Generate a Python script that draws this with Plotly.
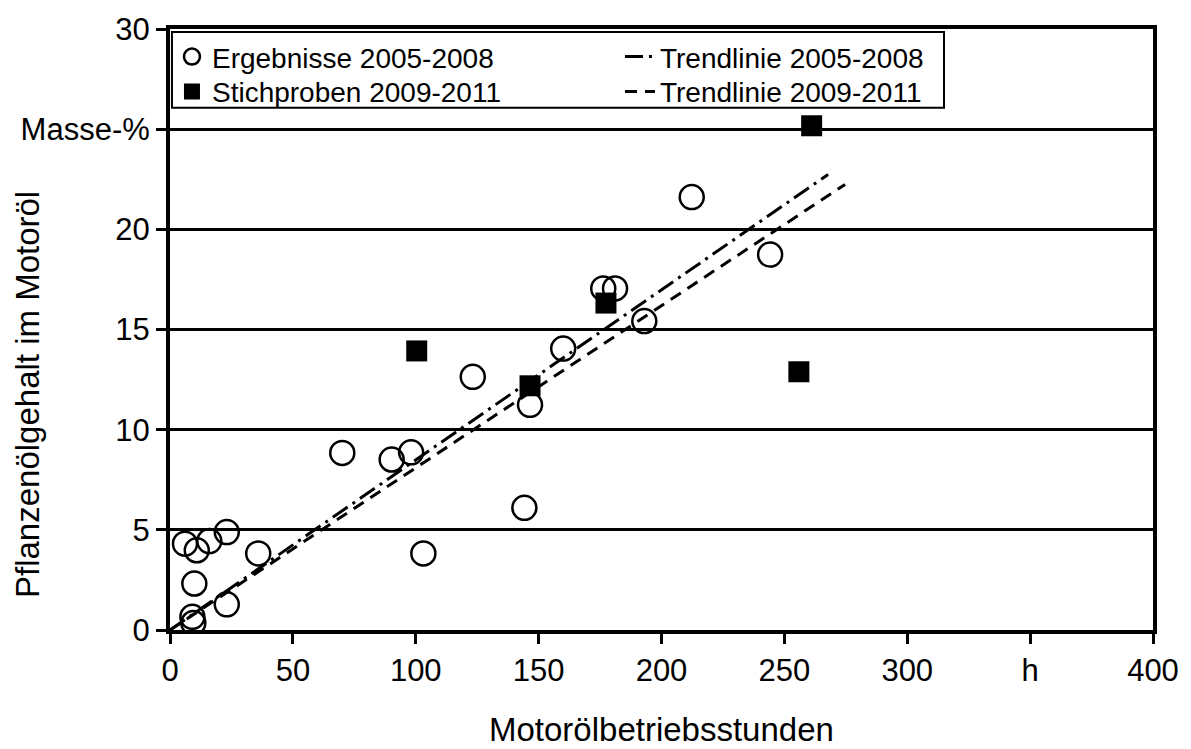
import plotly.graph_objects as go

# Ergebnisse 2005-2008 (open circles)
erg_x = [6.1, 10.9, 16.0, 23.1, 35.9, 103.1, 9.9, 23.1, 9.1, 9.5, 70.1, 90.2, 98.1,
         123.2, 144.2, 146.5, 160.0, 176.3, 181.1, 193.0, 212.3, 244.2]
erg_y = [4.31, 3.98, 4.44, 4.89, 3.82, 3.82, 2.32, 1.28, 0.66, 0.35, 8.84, 8.51, 8.87,
         12.64, 6.10, 11.24, 14.05, 17.05, 17.05, 15.42, 21.61, 18.74]

# Stichproben 2009-2011 (filled squares)
sti_x = [100.4, 146.5, 177.4, 261.1, 255.9]
sti_y = [13.93, 12.19, 16.32, 25.17, 12.89]

# Trendlines (endpoints)
trend1_x = [0, 267.8]
trend1_y = [0, 22.74]
trend2_x = [0, 274.7]
trend2_y = [0, 22.24]

x_tickvals = [0, 50, 100, 150, 200, 250, 300, 350, 400]
x_ticktext = ["0", "50", "100", "150", "200", "250", "300", "h", "400"]
y_tickvals = [0, 5, 10, 15, 20, 25, 30]
y_ticktext = ["0", "5", "10", "15", "20", "Masse-%", "30"]

FONT = "Liberation Sans, Arial, sans-serif"

fig = go.Figure()
fig.add_trace(go.Scatter(
    x=erg_x, y=erg_y, mode="markers", name="Ergebnisse 2005-2008", legend="legend", legendrank=1,
    marker=dict(symbol="circle-open", size=24, color="black", line=dict(width=2.5, color="black")),
))
fig.add_trace(go.Scatter(
    x=sti_x, y=sti_y, mode="markers", name="Stichproben 2009-2011", legend="legend2", legendrank=1,
    marker=dict(symbol="square", size=21, color="black", line=dict(width=0)),
))
fig.add_trace(go.Scatter(
    x=trend1_x, y=trend1_y, mode="lines", name="Trendlinie 2005-2008", legend="legend", legendrank=2,
    line=dict(color="black", width=3, dash="18px,6px,3px,6px"),
))
fig.add_trace(go.Scatter(
    x=trend2_x, y=trend2_y, mode="lines", name="Trendlinie 2009-2011", legend="legend2", legendrank=2,
    line=dict(color="black", width=3, dash="12px,8px"),
))

leg_common = dict(
    orientation="h", xanchor="left", yanchor="middle",
    entrywidth=403, entrywidthmode="pixels",
    bgcolor="rgba(0,0,0,0)", borderwidth=0,
    font=dict(family=FONT, size=28, color="black"),
    traceorder="normal",
)

fig.update_layout(
    width=1191, height=749,
    margin=dict(l=170, r=38, t=27, b=119),
    paper_bgcolor="white", plot_bgcolor="white",
    font=dict(family=FONT, color="black", size=31),
    showlegend=True,
    legend=dict(x=0.002, y=0.9536, **leg_common),
    legend2=dict(x=0.002, y=0.8955, **leg_common),
    xaxis=dict(
        range=[0, 400], tickvals=x_tickvals, ticktext=x_ticktext,
        showgrid=False, zeroline=False,
        showline=True, linecolor="black", linewidth=4, mirror=True,
        ticks="outside", ticklen=10, tickwidth=3, tickcolor="black",
        tickfont=dict(family=FONT, size=31, color="black"),
    ),
    yaxis=dict(
        range=[0, 30], tickvals=y_tickvals, ticktext=y_ticktext,
        showgrid=True, gridcolor="black", gridwidth=3, zeroline=False,
        showline=True, linecolor="black", linewidth=4, mirror=True,
        ticks="outside", ticklen=10, tickwidth=3, tickcolor="black",
        tickfont=dict(family=FONT, size=31, color="black"),
    ),
    shapes=[
        dict(type="rect", xref="paper", yref="paper", x0=0.002, x1=0.7874, y0=0.869, y1=0.995,
             line=dict(color="black", width=2), fillcolor="white", layer="above"),
    ],
    annotations=[
        dict(text="Motorölbetriebsstunden", xref="paper", yref="paper", x=0.5, y=0,
             xanchor="center", yanchor="middle", yshift=-99, showarrow=False,
             font=dict(family=FONT, size=33, color="black")),
        dict(text="Pflanzenölgehalt im Motoröl", xref="paper", yref="paper", x=0, y=0.391,
             xanchor="center", yanchor="middle", xshift=-143, textangle=-90, showarrow=False,
             font=dict(family=FONT, size=33, color="black")),
    ],
)

fig.write_html("out.html")
